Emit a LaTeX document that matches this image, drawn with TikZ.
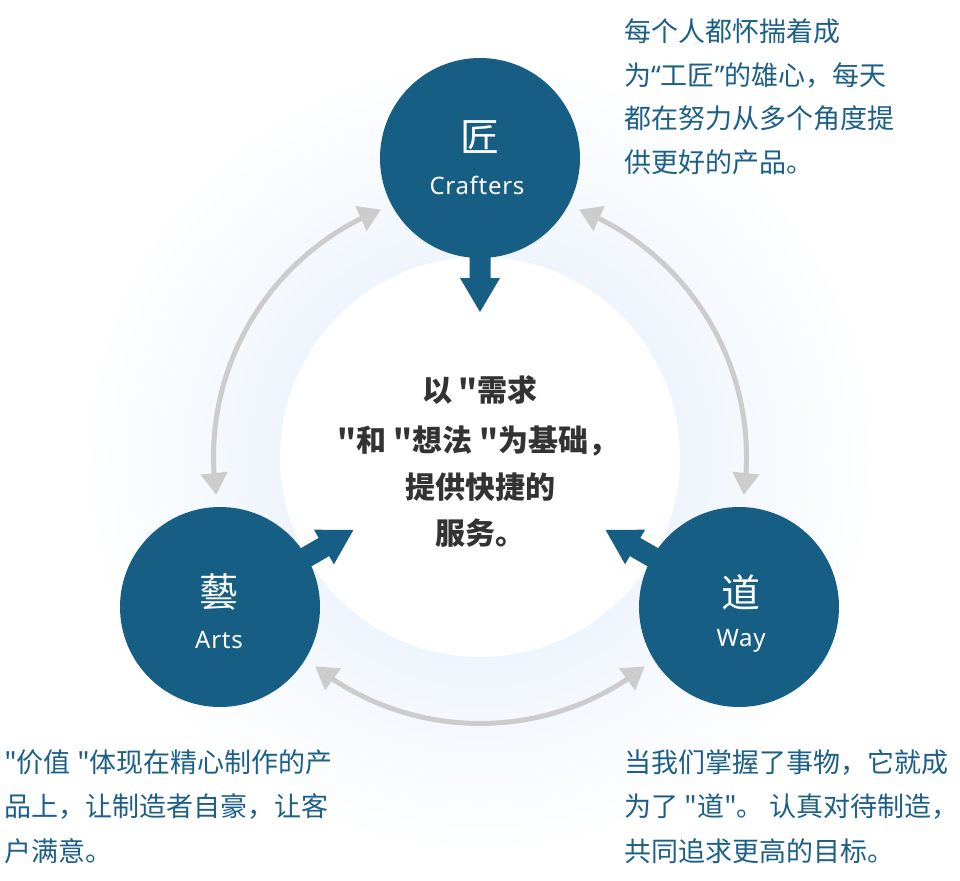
\documentclass[tikz,border=0pt]{standalone}
\usepackage{fontspec}
\newfontfamily\cjk{Noto Sans CJK SC}
\newfontfamily\lat[LetterSpace=3]{Noto Sans}
\newfontfamily\quo{Noto Sans}
\usetikzlibrary{arrows.meta,bending,calc}
\definecolor{mainblue}{HTML}{175E84}
\definecolor{textblue}{HTML}{1C6088}
\definecolor{arcgray}{HTML}{CCCCCC}
\definecolor{glowblue}{HTML}{EFF5FC}
\definecolor{darktext}{HTML}{333333}
\pgfdeclareradialshading{glow}{\pgfpoint{0bp}{0bp}}{color(0bp)=(glowblue); color(12.5bp)=(glowblue); color(25bp)=(white); color(50bp)=(white)}
\begin{document}
\begin{tikzpicture}[x=1pt,y=1pt,
  hub/.style={circle, fill=mainblue, minimum size=200pt, inner sep=0pt},
  hanzi/.style={text=white, font=\cjk\fontsize{39}{39}\selectfont, inner sep=0pt},
  latin/.style={text=white, font=\lat\fontsize{24}{24}\selectfont, inner sep=0pt, anchor=base},
  desc/.style={text=textblue, font=\cjk\fontsize{27}{27}\selectfont, anchor=base west, inner sep=0pt},
  coretext/.style={text=darktext, font=\cjk\bfseries\fontsize{30}{30}\selectfont, anchor=base, inner sep=0pt},
  arcarrow/.style={draw=arcgray, line width=5pt, {Triangle[length=22pt,width=26pt]}-{Triangle[length=22pt,width=26pt]}},
  flow/.style={fill=mainblue}]

\useasboundingbox (0,0) rectangle (960,-880);
\clip (0,0) rectangle (960,-880);
\fill[white] (0,0) rectangle (960,-880);
\coordinate (ctr) at (480,-457);
\shade[shading=glow] (ctr) circle[radius=400pt];
\node[circle, fill=white, minimum size=400pt, inner sep=0pt] (core) at (ctr) {};

% hubs
\node[hub] (craft) at (480,-158) {};
\node[hub] (arts) at (220,-607) {};
\node[hub] (way) at (739,-607) {};

% blue arrows towards the core
\foreach \hubname/\ang in {craft/-90, arts/30, way/150}{
  \begin{scope}[shift={(\hubname.center)}, rotate=\ang]
    \fill[flow] (95,-10.5) -- (120,-10.5) -- (120,-20) -- (154,0) -- (120,20) -- (120,10.5) -- (95,10.5) -- cycle;
  \end{scope}
}

% gray double arrows
\draw[arcarrow] ($(ctr)+(111.8:266.5)$) arc[start angle=111.8, end angle=188.2, radius=266.5pt];
\draw[arcarrow] ($(ctr)+(231.8:266.5)$) arc[start angle=231.8, end angle=308.2, radius=266.5pt];
\draw[arcarrow] ($(ctr)+(351.8:266.5)$) arc[start angle=351.8, end angle=428.2, radius=266.5pt];

% hub labels
\node[hanzi] (craftzh) at (480,-137) {匠};
\node[latin] (craften) at (477,-194.6) {Crafters};
\node[hanzi] (artszh) at (219,-592) {藝};
\node[latin] (artsen) at (219,-648.6) {Arts};
\node[hanzi] (wayzh) at (741,-592) {道};
\node[latin] (wayen) at (741,-646.6) {Way};

% core text
\node[coretext] (c1) at (480,-401) {以 "需求};
\node[coretext] (c2) at (478,-451) {"和 "想法 "为基础，};
\node[coretext] (c3) at (480,-498) {提供快捷的};
\node[coretext] (c4) at (480,-544) {服务。};

% descriptions
\node[desc] (t1) at (624,-42) {每个人都怀揣着成};
\node[desc] (t2) at (624,-85.3) {为{\quo “}工匠{\quo ”}的雄心，每天};
\node[desc] (t3) at (624,-128.6) {都在努力从多个角度提};
\node[desc] (t4) at (624,-172) {供更好的产品。};

\node[desc] (l1) at (4,-772) {"价值 "体现在精心制作的产};
\node[desc] (l2) at (4,-816.5) {品上，让制造者自豪，让客};
\node[desc] (l3) at (4,-861) {户满意。};

\node[desc] (r1) at (624,-772) {当我们掌握了事物，它就成};
\node[desc] (r2) at (624,-816.5) {为了 "道"。 认真对待制造，};
\node[desc] (r3) at (624,-861) {共同追求更高的目标。};
\end{tikzpicture}
\end{document}
